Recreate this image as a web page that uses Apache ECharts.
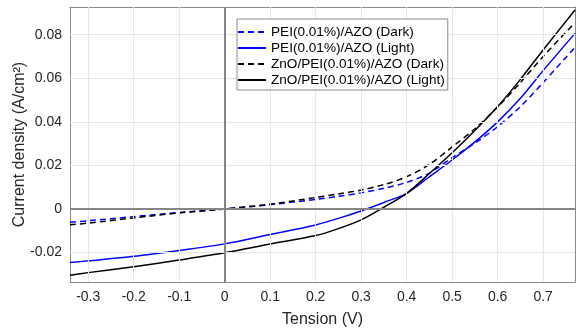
<!DOCTYPE html>
<html>
<head>
<meta charset="utf-8">
<script src="https://cdn.jsdelivr.net/npm/echarts@6/dist/echarts.min.js"></script>
<style>
  html, body { margin: 0; padding: 0; background: #fff; }
  #chart { width: 576px; height: 331px; }
</style>
</head>
<body>
<div id="chart"></div>
<script>
// Applied voltage (V)
const voltage = [-0.34, -0.3, -0.2, -0.1, 0, 0.1, 0.2, 0.25, 0.3, 0.35, 0.4, 0.45, 0.5, 0.55, 0.6, 0.65, 0.7, 0.77];

// Current density (A/cm²) for each device
const peiDark    = [-0.0061, -0.0054, -0.0035, -0.0016, 0, 0.0020, 0.0044, 0.0058, 0.0074, 0.0095, 0.0122, 0.0165, 0.0236, 0.0302, 0.0378, 0.0470, 0.0580, 0.0742];
const peiLight   = [-0.0246, -0.0238, -0.0217, -0.0190, -0.0160, -0.0117, -0.0073, -0.0043, -0.0009, 0.0030, 0.0072, 0.0148, 0.0225, 0.0308, 0.0400, 0.0508, 0.0635, 0.0806];
const znoDark    = [-0.0072, -0.0065, -0.0041, -0.0018, 0, 0.0022, 0.0053, 0.0069, 0.0087, 0.0112, 0.0148, 0.0205, 0.0285, 0.0368, 0.0468, 0.0580, 0.0700, 0.0855];
const znoLight   = [-0.0304, -0.0292, -0.0265, -0.0234, -0.0201, -0.0161, -0.0122, -0.0090, -0.0050, 0.0008, 0.0072, 0.0163, 0.0258, 0.0360, 0.0470, 0.0595, 0.0730, 0.0913];

const seriesNames = ['PEI(0.01%)/AZO (Dark)', 'PEI(0.01%)/AZO (Light)', 'ZnO/PEI(0.01%)/AZO (Dark)', 'ZnO/PEI(0.01%)/AZO (Light)'];

// Axis ranges and tick positions
const xRange = [-0.34, 0.77];
const yRange = [-0.0335, 0.0927];
const xTicks = [-0.3, -0.2, -0.1, 0, 0.1, 0.2, 0.3, 0.4, 0.5, 0.6, 0.7];
const yTicks = [-0.02, 0, 0.02, 0.04, 0.06, 0.08];

const pairs = ys => voltage.map((v, i) => [v, ys[i]]);
const font = "'Liberation Sans', Arial, Helvetica, sans-serif";
const textColor = '#262626';
const boxColor = '#8a8a8a';

const xLabel = v => (v === 0 ? '0' : v.toFixed(1));
const yLabel = v => (v === 0 ? '0' : v.toFixed(2));

function valueAxis(range, ticks, fmt, opts) {
  return Object.assign({
    type: 'value',
    min: range[0],
    max: range[1],
    nameMoveOverlap: false,
    axisLine: { show: true, onZero: false, lineStyle: { color: boxColor, width: 1 } },
    axisTick: { show: true, inside: true, length: 5, customValues: ticks, lineStyle: { color: boxColor } },
    axisLabel: { show: true, customValues: ticks, formatter: fmt, color: textColor, fontSize: 14, fontFamily: font },
    splitLine: { show: false }
  }, opts);
}

// Grid lines plus the emphasised zero reference lines
const gridLineStyle = { color: '#e6e6e6', width: 1, type: 'solid' };
const zeroLineStyle = { color: '#858585', width: 2, type: 'solid' };
const guideLines = []
  .concat(xTicks.filter(v => v !== 0).map(v => ({ xAxis: v, lineStyle: gridLineStyle })))
  .concat(yTicks.filter(v => v !== 0).map(v => ({ yAxis: v, lineStyle: gridLineStyle })))
  .concat([{ xAxis: 0, lineStyle: zeroLineStyle }, { yAxis: 0, lineStyle: zeroLineStyle }]);

function curve(name, ys, color, dashed) {
  return {
    name: name,
    type: 'line',
    data: pairs(ys),
    smooth: 0.3,
    symbol: 'none',
    z: 3,
    lineStyle: { color: color, width: 1.5, type: dashed ? [6, 4] : 'solid' },
    itemStyle: { color: color }
  };
}

const chart = echarts.init(document.getElementById('chart'), null, { renderer: 'canvas' });
chart.setOption({
  animation: false,
  backgroundColor: '#fff',
  grid: { left: 70, right: 1, top: 7, bottom: 49, containLabel: false, outerBoundsMode: 'none' },
  xAxis: [
    valueAxis(xRange, xTicks, xLabel, {
      position: 'bottom',
      name: 'Tension (V)',
      nameLocation: 'middle',
      nameGap: 30,
      nameTextStyle: { color: textColor, fontSize: 16, fontFamily: font }
    }),
    valueAxis(xRange, xTicks, xLabel, { position: 'top', axisLabel: { show: false } })
  ],
  yAxis: [
    valueAxis(yRange, yTicks, yLabel, {
      position: 'left',
      name: 'Current density (A/cm²)',
      nameLocation: 'middle',
      nameGap: 42,
      nameTextStyle: { color: textColor, fontSize: 16, fontFamily: font }
    }),
    valueAxis(yRange, yTicks, yLabel, { position: 'right', axisLabel: { show: false } })
  ],
  legend: {
    data: seriesNames,
    orient: 'vertical',
    left: 237,
    top: 19,
    z: 20,
    itemWidth: 28,
    itemHeight: 14,
    itemGap: 2,
    padding: [6, 3, 3, 0],
    backgroundColor: '#fff',
    borderColor: '#8a8a8a',
    borderWidth: 1,
    itemStyle: { opacity: 0 },
    textStyle: { color: '#000', fontSize: 13.6, fontFamily: font }
  },
  series: [
    {
      name: 'guides',
      type: 'line',
      data: [],
      z: 1,
      silent: true,
      markLine: {
        silent: true,
        symbol: 'none',
        animation: false,
        label: { show: false },
        data: guideLines
      }
    },
    curve(seriesNames[0], peiDark, '#0000ff', true),
    curve(seriesNames[1], peiLight, '#0000ff', false),
    curve(seriesNames[2], znoDark, '#000000', true),
    curve(seriesNames[3], znoLight, '#000000', false)
  ]
});
</script>
</body>
</html>
